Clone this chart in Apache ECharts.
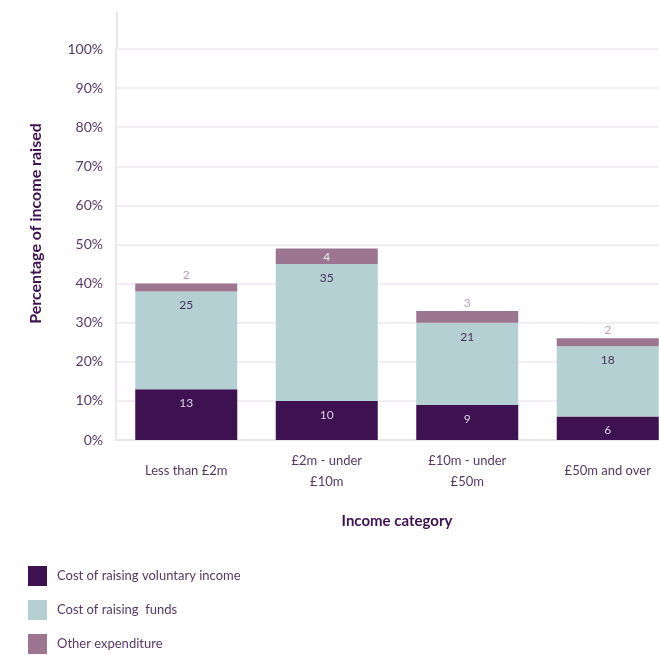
<!DOCTYPE html>
<html>
<head>
<meta charset="utf-8">
<script src="https://cdn.jsdelivr.net/npm/echarts@6/dist/echarts.min.js"></script>
<style>
  html, body { margin: 0; padding: 0; background: #ffffff; }
  #chart { width: 659px; height: 655px; }
</style>
</head>
<body>
<div id="chart"></div>
<script>
// Income bands and cost shares (% of income raised)
const categories = ['Less than £2m', '£2m - under\n£10m', '£10m - under\n£50m', '£50m and over'];
const voluntaryCost = [13, 10, 9, 6];
const fundsCost = [25, 35, 21, 18];
const otherCost = [2, 4, 3, 2];
const yTicks = [0, 10, 20, 30, 40, 50, 60, 70, 80, 90, 100];

const FONT = 'Lato, "Noto Sans", sans-serif';
const PURPLE = '#3e1250';
const TEAL = '#b5d0d2';
const MAUVE = '#9c7590';
const TEXT = '#563867';

const chart = echarts.init(document.getElementById('chart'), null, { renderer: 'canvas' });

// small segments get their label above the bar, larger ones inside
const otherData = otherCost.map(v => v >= 4
  ? { value: v, label: { position: 'insideTop', distance: 3, color: '#f2ecf2' } }
  : { value: v, label: { position: 'top', distance: 2, color: '#bb9db3' } });

chart.setOption({
  animation: false,
  textStyle: { fontFamily: FONT },
  grid: { left: 116, top: 49, width: 562, height: 391, outerBoundsMode: 'none' },
  legend: {
    orient: 'vertical',
    left: 28,
    top: 566,
    height: 89,
    padding: 0,
    itemWidth: 19,
    itemHeight: 20,
    itemGap: 14,
    icon: 'rect',
    textStyle: { color: TEXT, fontSize: 13, fontFamily: FONT, padding: [0, 0, 0, 5] },
    data: ['Cost of raising voluntary income', 'Cost of raising  funds', 'Other expenditure']
  },
  xAxis: {
    type: 'category',
    data: categories,
    name: 'Income category',
    nameLocation: 'middle',
    nameGap: 74,
    nameTextStyle: { color: PURPLE, fontSize: 15, fontWeight: 'bold', fontFamily: FONT },
    axisLine: { lineStyle: { color: '#ebe5ee', width: 2 } },
    axisTick: { show: false },
    axisLabel: {
      color: TEXT, fontSize: 13, fontFamily: FONT,
      margin: 31, verticalAlign: 'middle', lineHeight: 21
    }
  },
  yAxis: {
    type: 'value',
    min: yTicks[0],
    max: yTicks[yTicks.length - 1],
    interval: 10,
    name: 'Percentage of income raised',
    nameLocation: 'middle',
    nameGap: 72,
    nameTextStyle: { color: PURPLE, fontSize: 16, fontWeight: 'bold', fontFamily: FONT, padding: [0, 0, 0, 42] },
    axisLine: { show: true, lineStyle: { color: '#ebe5ee', width: 2 } },
    axisTick: { show: false },
    splitLine: { lineStyle: { color: '#eee9f1', width: 1.5 } },
    axisLabel: {
      color: TEXT, fontSize: 14, fontFamily: FONT, margin: 13,
      formatter: v => v + '%'
    }
  },
  graphic: [{
    // axis line continues a little above the 100% gridline
    type: 'line',
    shape: { x1: 117, y1: 12, x2: 117, y2: 49 },
    style: { stroke: '#ebe5ee', lineWidth: 2 },
    silent: true
  }],
  series: [
    {
      name: 'Cost of raising voluntary income',
      type: 'bar', stack: 'total', barWidth: 102,
      itemStyle: { color: PURPLE },
      label: { show: true, position: 'insideTop', distance: 8, color: '#ddd0e6', fontSize: 12, fontFamily: FONT },
      data: voluntaryCost
    },
    {
      name: 'Cost of raising  funds',
      type: 'bar', stack: 'total', barWidth: 102,
      itemStyle: { color: TEAL },
      label: { show: true, position: 'insideTop', distance: 8, color: '#4b2e5c', fontSize: 12, fontFamily: FONT },
      data: fundsCost
    },
    {
      name: 'Other expenditure',
      type: 'bar', stack: 'total', barWidth: 102,
      itemStyle: { color: MAUVE },
      label: { show: true, fontSize: 12, fontFamily: FONT },
      data: otherData
    }
  ]
});
</script>
</body>
</html>
